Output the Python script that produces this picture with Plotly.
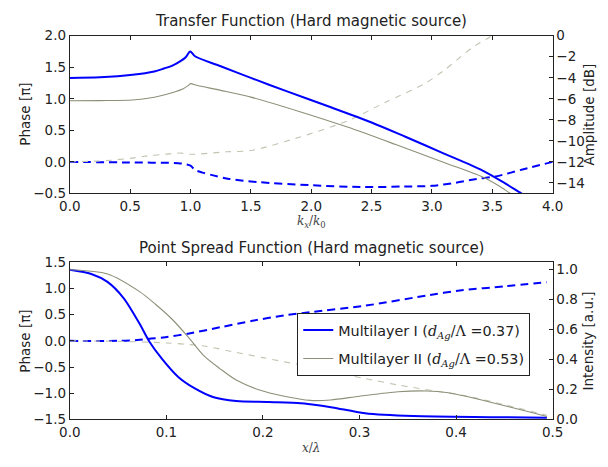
import plotly.graph_objects as go

W, H = 608, 467

# ---------------- Transfer function (top panel) ----------------
k_amp_I = [0, 0.25, 0.52, 0.7, 0.78, 0.85, 0.92, 0.96, 0.99, 1.0, 1.04, 1.25, 1.5, 1.8,
           2.14, 2.5, 2.78, 3.1, 3.42, 3.6, 3.74, 3.8]
amp_I_db = [-4.02, -3.96, -3.72, -3.4, -3.12, -2.85, -2.4, -2.05, -1.55, -1.5, -1.98, -2.9,
            -4.01, -5.3, -6.71, -8.25, -9.61, -11.21, -12.83, -14.0, -15.0, -15.4]

k_amp_II = [0, 0.25, 0.52, 0.7, 0.78, 0.88, 0.94, 0.98, 1.0, 1.05, 1.25, 1.5, 1.9, 2.3,
            2.7, 3.1, 3.42, 3.55, 3.65, 3.7]
amp_II_db = [-6.18, -6.17, -6.12, -5.85, -5.64, -5.3, -5.04, -4.75, -4.56, -4.72, -5.2,
             -5.84, -7.2, -8.69, -10.35, -12.06, -13.44, -14.25, -15.0, -15.35]

k_ph_I = [0, 0.5, 0.9, 0.97, 1.0, 1.04, 1.1, 1.18, 1.32, 1.56, 2.0, 2.44, 2.77, 3.0, 3.2,
          3.37, 3.53, 3.75, 4.0]
ph_I = [0.0, -0.01, -0.02, -0.04, -0.06, -0.13, -0.17, -0.21, -0.27, -0.32, -0.37, -0.40,
        -0.39, -0.38, -0.33, -0.27, -0.23, -0.12, 0.0]

k_ph_II = [0, 0.3, 0.52, 0.62, 0.79, 0.91, 1.0, 1.3, 1.5, 1.9, 2.3, 2.62, 2.94, 3.1, 3.34,
           3.48, 3.6]
ph_II = [0.0, 0.02, 0.06, 0.09, 0.12, 0.14, 0.12, 0.16, 0.18, 0.39, 0.65, 0.95, 1.24, 1.45,
         1.82, 1.98, 2.15]

# ---------------- Point spread function (bottom panel) ----------------
x_int_I = [0, 0.0223, 0.039, 0.0557, 0.0723, 0.0823, 0.0957, 0.1123, 0.129, 0.149, 0.1723,
           0.2057, 0.239, 0.249, 0.272, 0.3057, 0.3557, 0.439, 0.494]
int_I = [1.0, 0.972, 0.919, 0.811, 0.639, 0.521, 0.403, 0.284, 0.209, 0.148, 0.123, 0.116,
         0.108, 0.101, 0.080, 0.041, 0.022, 0.015, 0.011]

x_int_II = [0, 0.039, 0.0723, 0.089, 0.1057, 0.1223, 0.139, 0.1557, 0.1723, 0.1957, 0.222,
            0.249, 0.27, 0.30, 0.34, 0.37, 0.39, 0.41, 0.44, 0.47, 0.494]
int_II = [1.0, 0.972, 0.854, 0.768, 0.671, 0.553, 0.424, 0.338, 0.263, 0.198, 0.155, 0.127,
          0.13, 0.155, 0.185, 0.19, 0.18, 0.155, 0.108, 0.06, 0.019]

x_ph_I = [0, 0.05, 0.07, 0.0823, 0.099, 0.1223, 0.1557, 0.189, 0.222, 0.249, 0.3057, 0.3723,
          0.4057, 0.45, 0.494]
psf_ph_I = [0.0, 0.0, 0.015, 0.04, 0.069, 0.137, 0.259, 0.382, 0.487, 0.548, 0.671, 0.874,
            0.966, 1.04, 1.119]

x_ph_II = [0, 0.05, 0.1, 0.139, 0.172, 0.2, 0.222, 0.25, 0.272, 0.3057, 0.339, 0.379, 0.41,
           0.45, 0.494]
psf_ph_II = [0.0, -0.01, -0.04, -0.10, -0.22, -0.32, -0.40, -0.50, -0.60, -0.72, -0.84,
             -0.96, -1.05, -1.22, -1.42]

# tick positions
tf_xticks = [0.0, 0.5, 1.0, 1.5, 2.0, 2.5, 3.0, 3.5, 4.0]
tf_phase_ticks = [-0.5, 0.0, 0.5, 1.0, 1.5, 2.0]
tf_db_ticks = [0, -2, -4, -6, -8, -10, -12, -14]
psf_xticks = [0.0, 0.1, 0.2, 0.3, 0.4, 0.5]
psf_phase_ticks = [-1.5, -1.0, -0.5, 0.0, 0.5, 1.0, 1.5]
psf_int_ticks = [0.0, 0.2, 0.4, 0.6, 0.8, 1.0]

BLUE = "#0000ff"
GREY = "#8c9078"
GREY_D = "#c2c4b2"
INK = "#222222"
SANS = "DejaVu Sans"
SERIF = "DejaVu Serif"
FS = 13.5


def px(x):
    return x / W


def py(y):
    return 1 - y / H


def solid(color, width):
    return dict(color=color, width=width, shape="spline", smoothing=0.8)


def dashed(color, width, dash):
    return dict(color=color, width=width, dash=dash, shape="spline", smoothing=0.8)


fig = go.Figure()

# top panel traces
fig.add_trace(go.Scatter(x=k_amp_I, y=amp_I_db, xaxis="x", yaxis="y2", mode="lines",
                         line=solid(BLUE, 2), showlegend=False))
fig.add_trace(go.Scatter(x=k_ph_I, y=ph_I, xaxis="x", yaxis="y", mode="lines",
                         line=dashed(BLUE, 2, "8px,5px"), showlegend=False))
fig.add_trace(go.Scatter(x=k_amp_II, y=amp_II_db, xaxis="x", yaxis="y2", mode="lines",
                         line=solid(GREY, 1.1), showlegend=False))
fig.add_trace(go.Scatter(x=k_ph_II, y=ph_II, xaxis="x", yaxis="y", mode="lines",
                         line=dashed(GREY_D, 1.1, "6px,6px"), showlegend=False))

# bottom panel traces
lab_I = ("Multilayer I (<span style=\"font-family:'DejaVu Serif'\"><i>d</i><sub><i>Ag</i></sub>"
         "/Λ =</span>0.37)")
lab_II = ("Multilayer II (<span style=\"font-family:'DejaVu Serif'\"><i>d</i><sub><i>Ag</i></sub>"
          "/Λ =</span>0.53)")
fig.add_trace(go.Scatter(x=x_int_I, y=int_I, xaxis="x2", yaxis="y4", mode="lines",
                         line=solid(BLUE, 2), name=lab_I, legendgroup="I", showlegend=True))
fig.add_trace(go.Scatter(x=x_ph_I, y=psf_ph_I, xaxis="x2", yaxis="y3", mode="lines",
                         line=dashed(BLUE, 2, "8px,5px"), showlegend=False))
fig.add_trace(go.Scatter(x=x_int_II, y=int_II, xaxis="x2", yaxis="y4", mode="lines",
                         line=solid(GREY, 1.1), name=lab_II, legendgroup="II",
                         showlegend=True))
fig.add_trace(go.Scatter(x=x_ph_II, y=psf_ph_II, xaxis="x2", yaxis="y3", mode="lines",
                         line=dashed(GREY_D, 1.1, "6px,6px"), showlegend=False))

X_DOM = [px(61), px(562)]
TOP_DOM = [py(192), py(28.7)]
BOT_DOM = [py(426), py(263.3)]

common = dict(showgrid=False, zeroline=False, showline=True, linecolor=INK, linewidth=1,
              ticks="inside", ticklen=4, tickcolor=INK, tickwidth=1,
              tickfont=dict(family=SANS, size=FS, color=INK))

fig.update_layout(
    width=W, height=H,
    margin=dict(l=0, r=0, t=0, b=0),
    paper_bgcolor="white", plot_bgcolor="white",
    xaxis=dict(domain=X_DOM, anchor="y", range=[0, 4], tickvals=tf_xticks,
               tickformat=".1f", mirror="ticks", **common),
    yaxis=dict(domain=TOP_DOM, anchor="x", range=[-0.5, 2.0], tickvals=tf_phase_ticks,
               tickformat=".1f", **common),
    yaxis2=dict(overlaying="y", side="right", anchor="x", range=[-15, 0],
                tickvals=tf_db_ticks, **common),
    xaxis2=dict(domain=X_DOM, anchor="y3", range=[0, 0.5], tickvals=psf_xticks,
                tickformat=".1f", mirror="ticks", **common),
    yaxis3=dict(domain=BOT_DOM, anchor="x2", range=[-1.5, 1.5], tickvals=psf_phase_ticks,
                tickformat=".1f", **common),
    yaxis4=dict(overlaying="y3", side="right", anchor="x2", range=[0, 1.05],
                tickvals=psf_int_ticks, tickformat=".1f", **common),
    legend=dict(x=px(297), y=py(316), xanchor="left", yanchor="top",
                bgcolor="white", bordercolor=INK, borderwidth=1,
                tracegroupgap=7, traceorder="grouped",
                font=dict(family=SANS, size=14.3, color=INK)),
)

ann = [
    ("Transfer Function (Hard magnetic source)", 311.5, 13, 0, SANS, 15, INK),
    ("Point Spread Function (Hard magnetic source)", 311.5, 249, 0, SANS, 15, INK),
    ("<i>k<sub>x</sub></i>/<i>k</i><sub>0</sub>", 311.5, 222, 0, SERIF, 12, "#444444"),
    ("<i>x</i>/<i>λ</i>", 311.5, 456, 0, SERIF, 12, "#444444"),
    ("Phase [π]", 15, 110, -90, SANS, FS, INK),
    ("Phase [π]", 15, 345, -90, SANS, FS, INK),
    ("Amplitude [dB]", 600, 110, -90, SANS, FS, INK),
    ("Intensity [a.u.]", 599, 345, -90, SANS, FS, INK),
]
for text, x, y, ang, fam, size, col in ann:
    fig.add_annotation(text=text, x=px(x), y=py(y), xref="paper", yref="paper",
                       xanchor="center", yanchor="middle", showarrow=False,
                       textangle=ang, font=dict(family=fam, size=size, color=col))

fig.write_html("out.html")
